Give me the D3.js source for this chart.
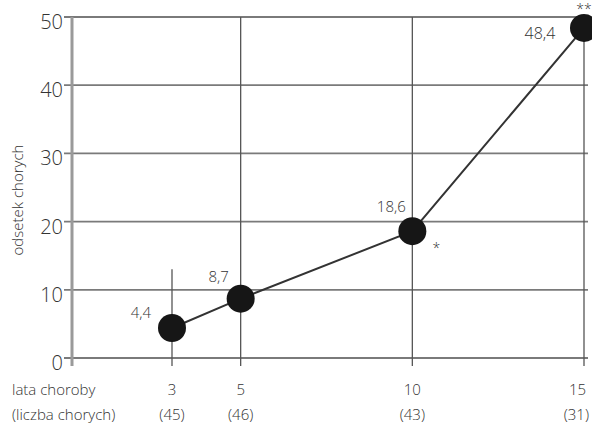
<!DOCTYPE html>
<html><head><meta charset="utf-8">
<script src="https://cdn.jsdelivr.net/npm/d3@7"></script>
<style>
body{margin:0;background:#fff;}
text{font-family:"Open Sans",sans-serif;fill:#333;}
</style></head>
<body><svg id="c" width="592" height="427"></svg>
<script>
const years = [3, 5, 10, 15];
const values = [4.4, 8.7, 18.6, 48.4];
const counts = [45, 46, 43, 31];
const valueLabels = ["4,4", "8,7", "18,6", "48,4"];
const stars = ["", "", "*", "**"];
const yTicks = [0, 10, 20, 30, 40, 50];

(function(){
const svg = d3.select("#c");
const x = d3.scaleLinear().domain([0, 15]).range([69, 584]);
const y = d3.scaleLinear().domain([0, 50]).range([358, 17]);
const yTop = y(50), yBottom = 366;

// horizontal gridlines
svg.append("g").selectAll("line").data(yTicks).join("line")
  .attr("x1", 64).attr("x2", 588)
  .attr("y1", d => y(d)).attr("y2", d => y(d))
  .attr("stroke", "#7a7a7a").attr("stroke-width", 1.8);

// left axis line
svg.append("line").attr("x1", 72).attr("x2", 72).attr("y1", yTop).attr("y2", yBottom)
  .attr("stroke", "#9a9a9a").attr("stroke-width", 3);

// vertical lines
svg.append("g").selectAll("line").data(years).join("line")
  .attr("x1", d => x(d)).attr("x2", d => x(d))
  .attr("y1", (d, i) => i === 0 ? y(13) : yTop).attr("y2", yBottom)
  .attr("stroke", "#555").attr("stroke-width", 1.3);

// y tick labels
svg.append("g").selectAll("text").data(yTicks).join("text")
  .attr("x", 63).attr("y", d => y(d) + 12)
  .attr("text-anchor", "end").attr("font-size", 20).attr("font-weight", 300)
  .text(d => d);

// y axis title
svg.append("text").attr("transform", "translate(23,200) rotate(-90)")
  .attr("text-anchor", "middle").attr("font-size", 15).attr("font-weight", 300)
  .text("odsetek chorych");

// line
const pts = years.map((d, i) => [x(d), y(values[i])]);
svg.append("path").attr("d", d3.line()(pts)).attr("fill", "none")
  .attr("stroke", "#333").attr("stroke-width", 2);

// dots
svg.append("g").selectAll("circle").data(pts).join("circle")
  .attr("cx", d => d[0]).attr("cy", d => d[1]).attr("r", 14).attr("fill", "#161616");

// value labels
const lblOff = [[-31, -10], [-22, -17], [-21, -19], [-44, 11]];
const lblSize = [15, 15, 15, 16];
svg.append("g").selectAll("text").data(pts).join("text")
  .attr("x", (d, i) => d[0] + lblOff[i][0]).attr("y", (d, i) => d[1] + lblOff[i][1])
  .attr("text-anchor", "middle").attr("font-size", (d, i) => lblSize[i]).attr("font-weight", 300)
  .text((d, i) => valueLabels[i]);

// stars
const starOff = [[0,0],[0,0],[24, 22],[0, -14]];
svg.append("g").selectAll("text").data(pts).join("text")
  .attr("x", (d, i) => d[0] + starOff[i][0]).attr("y", (d, i) => d[1] + starOff[i][1])
  .attr("text-anchor", "middle").attr("font-size", 14).attr("font-weight", 300)
  .text((d, i) => stars[i]);

// bottom labels
const last = years.length - 1;
svg.append("text").attr("x", 12).attr("y", 395).attr("font-size", 15).attr("font-weight", 300).text("lata choroby");
svg.append("text").attr("x", 12).attr("y", 420).attr("font-size", 15).attr("font-weight", 300).text("(liczba chorych)");
svg.append("g").selectAll("text").data(years).join("text")
  .attr("x", (d, i) => i === last ? 586 : x(d)).attr("y", 395)
  .attr("text-anchor", (d, i) => i === last ? "end" : "middle")
  .attr("font-size", 15).attr("font-weight", 300).text(d => d);
svg.append("g").selectAll("text").data(counts).join("text")
  .attr("x", (d, i) => i === last ? 589 : x(years[i])).attr("y", 420)
  .attr("text-anchor", (d, i) => i === last ? "end" : "middle")
  .attr("font-size", 15).attr("font-weight", 300).text(d => "(" + d + ")");
})();
</script></body></html>
